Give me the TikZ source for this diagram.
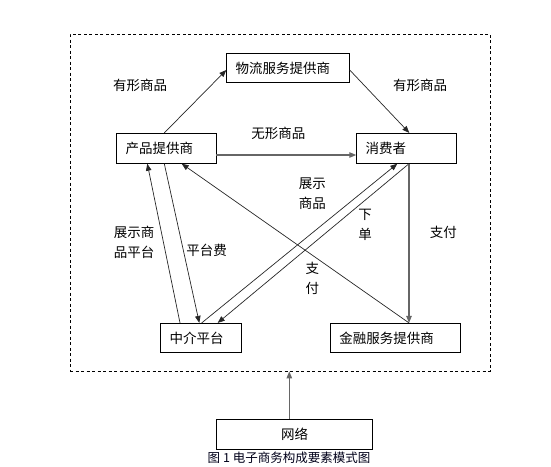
\documentclass[tikz,border=0pt]{standalone}
\usepackage{fontspec}
\setmainfont{Noto Sans CJK SC}
\usetikzlibrary{arrows.meta,calc}
\begin{document}
\begin{tikzpicture}[x=1pt,y=-1pt,
  box/.style={draw=black,line width=0.8pt,rectangle,inner xsep=9pt,inner ysep=0pt,align=left,font=\fontsize{13.5}{16}\selectfont},
  lbl/.style={inner sep=0pt,align=center,font=\fontsize{13.5}{20}\selectfont},
  con/.style={draw=black!85,line width=0.7pt,-{Triangle[length=7pt,width=5.5pt]}},
  gcon/.style={draw=black!60,line width=1.1pt,-{Triangle[length=7pt,width=5.5pt]}}]
\useasboundingbox (0,0) rectangle (551,466);
\node[draw=black,dashed,dash pattern=on 3pt off 2.5pt,line width=0.7pt,minimum width=420pt,minimum height=337pt,inner sep=0pt] (env) at (280,202.5) {};
\node[box,minimum height=29.4pt,text width=104.6pt] (wl) at (288,68) {物流服务提供商};
\node[box,minimum height=30pt,text width=81.3pt] (cp) at (166.3,148.3) {产品提供商};
\node[box,minimum height=30pt,text width=81.3pt] (xf) at (406.3,148.3) {消费者};
\node[box,minimum height=29.4pt,text width=62.3pt] (zj) at (200.8,338) {中介平台};
\node[box,minimum height=29.4pt,text width=111.7pt] (jr) at (395.2,338) {金融服务提供商};
\node[box,minimum height=30pt,minimum width=155.6pt,align=center,inner xsep=0pt] (wlo) at (294.5,434.3) {网络};
\node[inner sep=0pt,font=\fontsize{12.5}{14}\selectfont,text=black!90!blue] (cap) at (289,458) {图 1 电子商务构成要素模式图};
% labels
\node[lbl] (l1) at (140,85) {有形商品};
\node[lbl] (l2) at (420,85) {有形商品};
\node[lbl] (l3) at (278.3,133.3) {无形商品};
\node[lbl] (l4) at (134,242.7) {展示商\\品平台};
\node[lbl] (l5) at (206.7,250.7) {平台费};
\node[lbl] (l6) at (312.3,193.3) {展示\\商品};
\node[lbl] (l7) at (365,225) {下\\单};
\node[lbl] (l8) at (443.3,232.3) {支付};
\node[lbl] (l9) at (312.3,278.3) {支\\付};
% connectors
\draw[con] ($(cp.north)+(-2,0)$) -- ($(wl.west)+(0,2)$);
\draw[con] ($(wl.east)+(0,2)$) -- ($(xf.north)+(3,0)$);
\draw[gcon] ($(cp.east)+(0,6.7)$) -- ($(xf.west)+(0,6.7)$);
\draw[con] ($(zj.north)+(-20.8,0)$) -- ($(cp.south)+(-19,0)$);
\draw[con] ($(cp.south)+(-2,0)$) -- ($(zj.north)+(-1.5,0)$);
\draw[con] ($(jr.north)+(13.8,0)$) -- ($(cp.south)+(15.4,0)$);
\draw[con] ($(zj.north)+(0.9,0)$) -- ($(xf.south)+(-9,0)$);
\draw[con] ($(xf.south)+(2.7,0)$) -- ($(zj.north)+(16.9,0)$);
\draw[gcon] ($(xf.south)+(2.7,0)$) -- ($(jr.north)+(13.8,0)$);
\coordinate (nt) at ($(wlo.north)+(-5.2,0)$);
\draw[gcon] (nt) -- (nt |- env.south);
\end{tikzpicture}
\end{document}
